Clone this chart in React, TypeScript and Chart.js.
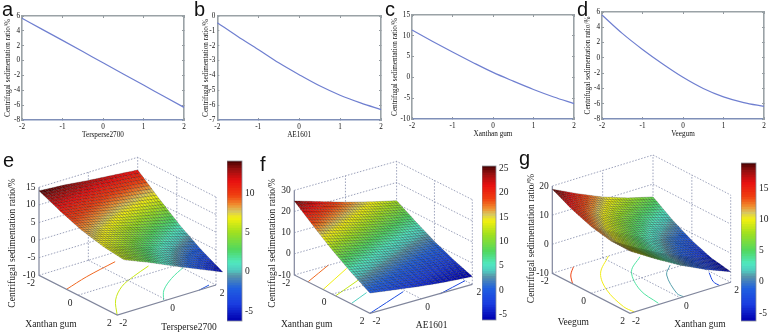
import React, { useEffect, useRef } from "react";
import { Chart, registerables } from "chart.js";

Chart.register(...registerables);

// ---------- data ----------
const lineX = [-2, -1.5, -1, -0.5, 0, 0.5, 1, 1.5, 2];
const tersperseCurve = [5.7, 4.2, 2.72, 1.22, -0.3, -1.8, -3.3, -4.8, -6.3];
const ae1601Curve = [-0.45, -1.38, -2.25, -3.15, -3.95, -4.7, -5.33, -5.85, -6.3];
const xanthanCurve = [11.4, 8.7, 6.1, 3.6, 1.2, -0.9, -2.9, -4.7, -6.3];
const veegumCurve = [5.6, 3.2, 1.1, -0.8, -2.54, -4.0, -5.1, -5.85, -6.35];

const xTickValues = [-2, -1, 0, 1, 2];
const aTicks = [6, 4, 2, 0, -2, -4, -6, -8];
const bTicks = [0, -1, -2, -3, -4, -5, -6, -7];
const cTicks = [15, 10, 5, 0, -5, -10];
const dTicks = [6, 4, 2, 0, -2, -4, -6, -8];

const gridCoords = [-2, -1, 0, 1, 2];
const surfaceE = [
  [14.0, 13.5, 12.7, 12.05, 11.4],
  [11.05, 9.96, 8.57, 7.34, 6.1],
  [8.5, 6.82, 4.85, 3.02, 1.2],
  [6.75, 4.49, 1.92, -0.49, -2.9],
  [5.7, 2.85, -0.3, -3.3, -6.3],
];
const surfaceF = [
  [25.0, 21.26, 17.57, 14.29, 11.4],
  [17.76, 14.51, 11.3, 8.5, 6.1],
  [10.92, 8.15, 5.44, 3.12, 1.2],
  [4.89, 2.6, 0.37, -1.47, -2.9],
  [-0.45, -2.25, -4.0, -5.35, -6.3],
];
const surfaceG = [
  [18.9, 14.7, 10.9, 7.9, 5.6],
  [15.5, 11.02, 6.95, 3.67, 1.1],
  [12.96, 8.21, 3.86, 0.31, -2.54],
  [11.5, 6.47, 1.85, -1.98, -5.1],
  [11.4, 6.1, 1.2, -2.9, -6.35],
];

const contoursE = [
  { level: 9, pts: [[-0.59, -2], [-1.0, -0.86], [-1.4, 0.61]] },
  { level: 5.8, pts: [[1.99, -2], [1.02, -1.29], [0.3, -0.47], [-0.11, 0.32], [-0.49, 1.24]] },
  { level: 1.5, pts: [[1.94, -0.08], [1.32, 0.43], [0.73, 1.21], [0.26, 2.06]] },
  { level: -3, pts: [[2, 1.32], [1.87, 1.82]] },
];
const contoursF = [
  { level: 17.5, pts: [[-1.29, -1.98], [-2.02, -0.65]] },
  { level: 14, pts: [[-0.48, -2], [-1.45, -0.36]] },
  { level: 12.5, pts: [[0.17, -1.98], [-0.45, -0.64]] },
  { level: 4, pts: [[0.98, -1.96], [0.55, -1.06]] },
  { level: -1.5, pts: [[2, -2], [1.18, -0.09]] },
  { level: -2, pts: [[2.03, 0.71], [1.62, 2]] },
];
const contoursG = [
  { level: 13.4, pts: [[-2, -1.16], [-1.54, -1.62], [-0.99, -1.98]] },
  { level: 10, pts: [[-2, 0.23], [-1.07, -0.8], [0.09, -1.45], [1.46, -1.84], [2, -1.83]] },
  { level: 3.5, pts: [[-1.35, 0.98], [-0.58, 0.05], [0.73, -0.62], [1.92, -0.81]] },
  { level: 1, pts: [[-0.25, 1.33], [0.31, 0.76], [1.65, 0.13], [2, 0.13]] },
  { level: -3, pts: [[0.98, 1.93], [1.62, 1.6], [2, 1.57]] },
];

const zTicksE = [15, 10, 5, 0, -5, -10];
const zTicksF = [30, 20, 10, 0, -10];
const zTicksG = [20, 10, 0, -10];
const barTicksE = [10, 5, 0, -5];
const barTicksF = [25, 20, 15, 10, 5, 0, -5];
const barTicksG = [15, 10, 5, 0, -5];
const floorTicks = [-2, 0, 2];

const Y_TITLE = "Centrifugal sedimentation ratio/%";
const SERIF = '"Liberation Serif", "Times New Roman", serif';

// ---------- colour ----------
const colorStops: [number, number[]][] = [
  [0, [0, 0, 176]],
  [0.1, [26, 60, 224]],
  [0.2, [32, 96, 224]],
  [0.28, [90, 150, 168]],
  [0.31, [80, 200, 192]],
  [0.36, [80, 232, 192]],
  [0.44, [80, 216, 96]],
  [0.55, [160, 224, 32]],
  [0.64, [244, 240, 16]],
  [0.68, [216, 200, 96]],
  [0.72, [240, 144, 48]],
  [0.78, [240, 64, 16]],
  [0.87, [232, 16, 16]],
  [0.95, [144, 16, 16]],
  [1, [64, 0, 0]],
];
function colormap(t: number) {
  const v = Math.max(0, Math.min(1, t));
  for (let i = 1; i < colorStops.length; i++) {
    if (v <= colorStops[i][0]) {
      const [t0, c0] = colorStops[i - 1];
      const [t1, c1] = colorStops[i];
      const f = (v - t0) / (t1 - t0);
      const c = c0.map((x, k) => Math.round(x + (c1[k] - x) * f));
      return `rgb(${c[0]},${c[1]},${c[2]})`;
    }
  }
  return "rgb(64,0,0)";
}

// ---------- panels config ----------
const linePanels = [
  { name: "a", xLabel: "Tersperse2700", xs: lineX, ys: tersperseCurve, ticks: aTicks, titleX: 8, L: 22, R: 184, T: 16, B: 120 },
  { name: "b", xLabel: "AE1601", xs: lineX, ys: ae1601Curve, ticks: bTicks, titleX: 205.7, L: 217, R: 380, T: 16, B: 119.5 },
  { name: "c", xLabel: "Xanthan gum", xs: lineX, ys: xanthanCurve, ticks: cTicks, titleX: 395, L: 412, R: 574, T: 15, B: 119 },
  { name: "d", xLabel: "Veegum", xs: lineX, ys: veegumCurve, ticks: dTicks, titleX: 588, L: 602, R: 764, T: 12, B: 119 },
];

const surfacePanels = [
  {
    z: surfaceE, contours: contoursE, zTicks: zTicksE, zTop: 15,
    canvas: { l: 0, t: 152, r: 227, b: 334 }, corner: [39, 275.3], eA: [78.3, 39.7], eB: [98.7, -30], unit: 3.52, skew: 6.7,
    range: [-6.27, 14.07], bar: { l: 227, r: 242, t: 161, b: 321 }, barTicks: barTicksE,
    aName: "Xanthan gum", bName: "Tersperse2700", aNamePos: [51, 324], bNamePos: [189, 327],
    aOff: [-8, 8], bOff: [6, 8],
  },
  {
    z: surfaceF, contours: contoursF, zTicks: zTicksF, zTop: 30,
    canvas: { l: 260, t: 152, r: 482, b: 334 }, corner: [294.3, 275], eA: [75.7, 38.3], eB: [102.3, -29], unit: 2.117, skew: 0,
    range: [-6.17, 25.53], bar: { l: 482.3, r: 496.7, t: 165.7, b: 320 }, barTicks: barTicksF,
    aName: "Xanthan gum", bName: "AE1601", aNamePos: [306.7, 324], bNamePos: [431.7, 325.7],
    aOff: [-8, 8], bOff: [6.5, 8.5],
  },
  {
    z: surfaceG, contours: contoursG, zTicks: zTicksG, zTop: 20,
    canvas: { l: 519, t: 143, r: 741, b: 334 }, corner: [552.3, 273.3], eA: [77.7, 40], eB: [100.7, -31], unit: 2.91, skew: 0,
    range: [-6.23, 19], bar: { l: 741, r: 755.7, t: 163.3, b: 321 }, barTicks: barTicksG,
    aName: "Veegum", bName: "Xanthan gum", aNamePos: [573.3, 322.3], bNamePos: [700, 324.3],
    aOff: [-7.5, 8], bOff: [6, 8.4],
  },
];

const letters = [
  { t: "a", x: 2, y: -1 }, { t: "b", x: 194, y: -1 }, { t: "c", x: 385, y: -1 }, { t: "d", x: 577, y: -1 },
  { t: "e", x: 3, y: 150 }, { t: "f", x: 260, y: 154 }, { t: "g", x: 519, y: 148 },
];

const noPad = (s: any) => { s.paddingTop = 0; s.paddingBottom = 0; s.paddingLeft = 0; s.paddingRight = 0; };

// ---------- charts ----------
function makeLineChart(canvas: HTMLCanvasElement, p: any) {
  const leftW = p.L - (p.titleX - 8);
  const frame = "#9aa2a6";
  const tick = { color: "#777f85", tickLength: -2, drawOnChartArea: false, lineWidth: 0.8 };
  const font = { family: SERIF, size: 7.2, weight: "normal" };
  return new Chart(canvas, {
    type: "scatter",
    data: {
      datasets: [{
        data: p.xs.map((x: number, i: number) => ({ x, y: p.ys[i] })),
        showLine: true, pointRadius: 0, borderColor: "#6f7fd0", borderWidth: 1.2, cubicInterpolationMode: "monotone", clip: false,
      }],
    },
    options: {
      animation: false, responsive: false, maintainAspectRatio: false,
      layout: { autoPadding: false, padding: { top: 8, right: 6, left: 0, bottom: 0 } },
      plugins: { legend: { display: false }, tooltip: { enabled: false } },
      scales: {
        x: {
          type: "linear", position: "bottom", min: -2, max: 2,
          afterBuildTicks: (s: any) => { s.ticks = xTickValues.map((value) => ({ value })); },
          afterFit: (s: any) => { s.height = 22; noPad(s); },
          grid: tick,
          border: { color: "#7f8fb8", width: 1.4 },
          ticks: { padding: 5, maxRotation: 0, autoSkip: false, color: "#111", font },
          title: { display: true, text: p.xLabel, color: "#111", padding: { top: 0, bottom: 3 }, font },
        },
        xT: {
          type: "linear", position: "top", min: -2, max: 2,
          afterBuildTicks: (s: any) => { s.ticks = xTickValues.map((value) => ({ value })); },
          afterFit: (s: any) => { s.height = 0; noPad(s); },
          grid: tick, border: { color: frame, width: 1.6 }, ticks: { display: false },
        },
        y: {
          type: "linear", position: "left", min: p.ticks[p.ticks.length - 1], max: p.ticks[0],
          afterBuildTicks: (s: any) => { s.ticks = p.ticks.map((value: number) => ({ value })); },
          afterFit: (s: any) => { s.width = leftW; noPad(s); },
          grid: tick, border: { color: frame, width: 1.6 },
          ticks: { padding: 4, autoSkip: false, color: "#111", font },
          title: { display: true, text: Y_TITLE, color: "#111", padding: { top: 3.8, bottom: 0 }, font },
        },
        yR: {
          type: "linear", position: "right", min: p.ticks[p.ticks.length - 1], max: p.ticks[0],
          afterBuildTicks: (s: any) => { s.ticks = p.ticks.map((value: number) => ({ value })); },
          afterFit: (s: any) => { s.width = 0; noPad(s); },
          grid: tick, border: { color: frame, width: 1.6 }, ticks: { display: false },
        },
      },
    } as any,
  } as any);
}

function makeSurfaceChart(canvas: HTMLCanvasElement, p: any) {
  const c = p.canvas;
  const axisW = p.corner[0] - c.l;
  const plotW = c.r - c.l - axisW;
  const zMax = -10 + (p.corner[1] - c.t) / p.unit;
  const zMin = -10 + (p.corner[1] - c.b) / p.unit;

  const proj = (a: number, b: number, z: number, skew = 0) => {
    const fa = (a + 2) / 4;
    const fb = (b + 2) / 4;
    return {
      x: fa * p.eA[0] + fb * p.eB[0] + fa * skew,
      y: z - (fa * p.eA[1] + fb * p.eB[1]) / p.unit,
    };
  };

  const dotted = { borderColor: "rgba(125,133,165,0.85)", borderWidth: 0.9, borderDash: [1.5, 1.6] };
  const solid = { borderColor: "#80869c", borderWidth: 1.2 };
  const seg = (pts: any[], style: any) => ({ data: pts, showLine: true, pointRadius: 0, clip: false, ...style });
  const datasets: any[] = [];
  const top = p.zTop;

  p.zTicks.forEach((z: number) => {
    if (z === -10) return;
    datasets.push(seg([proj(-2, -2, z), proj(-2, 2, z), proj(2, 2, z)], dotted));
  });
  datasets.push(seg([proj(-2, 0, -10), proj(-2, 0, top)], dotted));
  datasets.push(seg([proj(0, 2, -10), proj(0, 2, top)], dotted));
  datasets.push(seg([proj(-2, 2, -10), proj(-2, 2, top)], dotted));
  datasets.push(seg([proj(2, 2, -10), proj(2, 2, top)], dotted));
  datasets.push(seg([proj(-2, 2, -10), proj(2, 2, -10)], dotted));
  datasets.push(seg([proj(-2, -2, -10), proj(-2, 2, -10)], dotted));
  datasets.push(seg([proj(0, -2, -10), proj(0, 2, -10)], dotted));
  datasets.push(seg([proj(-2, 0, -10), proj(2, 0, -10)], dotted));
  datasets.push(seg([proj(-2, -2, top), proj(-2, -2, -10), proj(2, -2, -10), proj(2, 2, -10)], solid));
  p.contours.forEach((ct: any) => {
    const t = (ct.level - p.range[0]) / (p.range[1] - p.range[0]);
    datasets.push(seg(ct.pts.map((q: number[]) => proj(q[0], q[1], -10)), { borderColor: colormap(t), borderWidth: 1, tension: 0.35 }));
  });

  const surfacePlugin = {
    id: "surface",
    afterDatasetsDraw(chart: any) {
      const { ctx, scales } = chart;
      const sub = 9;
      const n = 4 * sub;
      const zAt = (i: number, j: number) => {
        const ri = Math.min(3, Math.floor(i / sub));
        const rj = Math.min(3, Math.floor(j / sub));
        const u = i / sub - ri;
        const v = j / sub - rj;
        const m = p.z;
        return (1 - u) * ((1 - v) * m[ri][rj] + v * m[ri][rj + 1]) + u * ((1 - v) * m[ri + 1][rj] + v * m[ri + 1][rj + 1]);
      };
      const px = (i: number, j: number) => {
        const q = proj(gridCoords[0] + i / sub, gridCoords[0] + j / sub, zAt(i, j), p.skew);
        return [scales.x.getPixelForValue(q.x), scales.y.getPixelForValue(q.y)];
      };
      ctx.save();
      ctx.lineWidth = 0.45;
      ctx.lineJoin = "round";
      ctx.strokeStyle = "rgba(0,0,0,0.45)";
      for (let i = 0; i < n; i++) {
        for (let j = n - 1; j >= 0; j--) {
          const zm = (zAt(i, j) + zAt(i + 1, j) + zAt(i, j + 1) + zAt(i + 1, j + 1)) / 4;
          const t = (zm - p.range[0]) / (p.range[1] - p.range[0]);
          const a = px(i, j), b = px(i + 1, j), d = px(i + 1, j + 1), e = px(i, j + 1);
          ctx.beginPath();
          ctx.moveTo(a[0], a[1]);
          ctx.lineTo(b[0], b[1]);
          ctx.lineTo(d[0], d[1]);
          ctx.lineTo(e[0], e[1]);
          ctx.closePath();
          ctx.fillStyle = colormap(t);
          ctx.fill();
          ctx.stroke();
        }
      }
      ctx.restore();
    },
  };

  const labelPlugin = {
    id: "floorLabels",
    afterDraw(chart: any) {
      const { ctx, scales } = chart;
      ctx.save();
      ctx.fillStyle = "#222";
      ctx.font = `9.5px ${SERIF}`;
      ctx.textAlign = "center";
      ctx.textBaseline = "middle";
      floorTicks.forEach((v) => {
        const qa = proj(v, -2, -10);
        ctx.fillText(String(v), scales.x.getPixelForValue(qa.x) + p.aOff[0], scales.y.getPixelForValue(qa.y) + p.aOff[1]);
        const qb = proj(2, v, -10);
        ctx.fillText(String(v), scales.x.getPixelForValue(qb.x) + p.bOff[0], scales.y.getPixelForValue(qb.y) + p.bOff[1]);
      });
      ctx.fillText(p.aName, p.aNamePos[0] - c.l, p.aNamePos[1] - c.t);
      ctx.fillText(p.bName, p.bNamePos[0] - c.l, p.bNamePos[1] - c.t);
      ctx.restore();
    },
  };

  return new Chart(canvas, {
    type: "scatter",
    data: { datasets },
    options: {
      animation: false, responsive: false, maintainAspectRatio: false,
      layout: { autoPadding: false, padding: 0 },
      plugins: { legend: { display: false }, tooltip: { enabled: false } },
      scales: {
        x: { type: "linear", display: false, min: 0, max: plotW },
        y: {
          type: "linear", position: "left", min: zMin, max: zMax,
          afterBuildTicks: (s: any) => { s.ticks = p.zTicks.map((value: number) => ({ value })); },
          afterFit: (s: any) => { s.width = axisW; noPad(s); },
          grid: { drawOnChartArea: false, drawTicks: false },
          border: { display: false },
          ticks: { padding: 3.5, autoSkip: false, color: "#222", font: { family: SERIF, size: 9.5 } },
          title: { display: true, text: Y_TITLE, color: "#222", padding: { top: 7, bottom: 0 }, font: { family: SERIF, size: 9.5 } },
        },
      },
    } as any,
    plugins: [surfacePlugin, labelPlugin],
  } as any);
}

function makeColorbar(canvas: HTMLCanvasElement, p: any) {
  const levels = 64;
  const [lo, hi] = p.range;
  const step = (hi - lo) / levels;
  const datasets = Array.from({ length: levels }, (_, i) => ({
    data: [[lo + i * step, Math.min(hi, lo + (i + 1.15) * step)]],
    backgroundColor: colormap((i + 0.5) / levels),
    borderWidth: 0,
    barPercentage: 1,
    categoryPercentage: 1,
  }));
  const framePlugin = {
    id: "barFrame",
    afterDraw(chart: any) {
      const { ctx, chartArea: a } = chart;
      ctx.save();
      ctx.strokeStyle = "#8a8f98";
      ctx.lineWidth = 0.8;
      ctx.strokeRect(a.left, a.top, a.right - a.left, a.bottom - a.top);
      ctx.restore();
    },
  };
  return new Chart(canvas, {
    type: "bar",
    data: { labels: ["z"], datasets },
    options: {
      animation: false, responsive: false, maintainAspectRatio: false,
      layout: { autoPadding: false, padding: { top: 6, bottom: 6, left: 0, right: 0 } },
      plugins: { legend: { display: false }, tooltip: { enabled: false } },
      scales: {
        x: { display: false, stacked: true },
        y: {
          type: "linear", position: "right", min: lo, max: hi,
          afterBuildTicks: (s: any) => { s.ticks = p.barTicks.map((value: number) => ({ value })); },
          afterFit: (s: any) => { s.width = 24; noPad(s); },
          grid: { drawOnChartArea: false, drawTicks: false },
          border: { display: false },
          ticks: { padding: 3, autoSkip: false, color: "#222", font: { family: SERIF, size: 9.5 } },
        },
      },
    } as any,
    plugins: [framePlugin],
  } as any);
}

function PanelCanvas({ make, style, width, height }: any) {
  const ref = useRef<HTMLCanvasElement>(null);
  useEffect(() => {
    const chart = make(ref.current);
    return () => chart.destroy();
  }, []);
  return <canvas ref={ref} width={width} height={height} style={{ position: "absolute", display: "block", ...style, width, height }} />;
}

export default function App() {
  return (
    <div style={{ position: "fixed", left: 0, top: 0, width: 769, height: 334, background: "#fff", overflow: "hidden" }}>
      {linePanels.map((p) => {
        const left = p.titleX - 8;
        return (
          <PanelCanvas
            key={p.name}
            make={(c: HTMLCanvasElement) => makeLineChart(c, p)}
            style={{ left, top: p.T - 8 }}
            width={Math.ceil(p.R - left + 6)}
            height={Math.ceil(8 + (p.B - p.T) + 22)}
          />
        );
      })}
      {surfacePanels.map((p, i) => (
        <PanelCanvas
          key={"s" + i}
          make={(c: HTMLCanvasElement) => makeSurfaceChart(c, p)}
          style={{ left: p.canvas.l, top: p.canvas.t }}
          width={p.canvas.r - p.canvas.l}
          height={p.canvas.b - p.canvas.t}
        />
      ))}
      {surfacePanels.map((p, i) => (
        <PanelCanvas
          key={"b" + i}
          make={(c: HTMLCanvasElement) => makeColorbar(c, p)}
          style={{ left: p.bar.l, top: p.bar.t - 6 }}
          width={Math.round(p.bar.r - p.bar.l) + 24}
          height={Math.round(p.bar.b - p.bar.t) + 12}
        />
      ))}
      {letters.map((l) => (
        <span key={l.t} style={{ position: "absolute", left: l.x, top: l.y, font: '20px/20px "Liberation Sans", Arial, sans-serif', color: "#111" }}>
          {l.t}
        </span>
      ))}
    </div>
  );
}
